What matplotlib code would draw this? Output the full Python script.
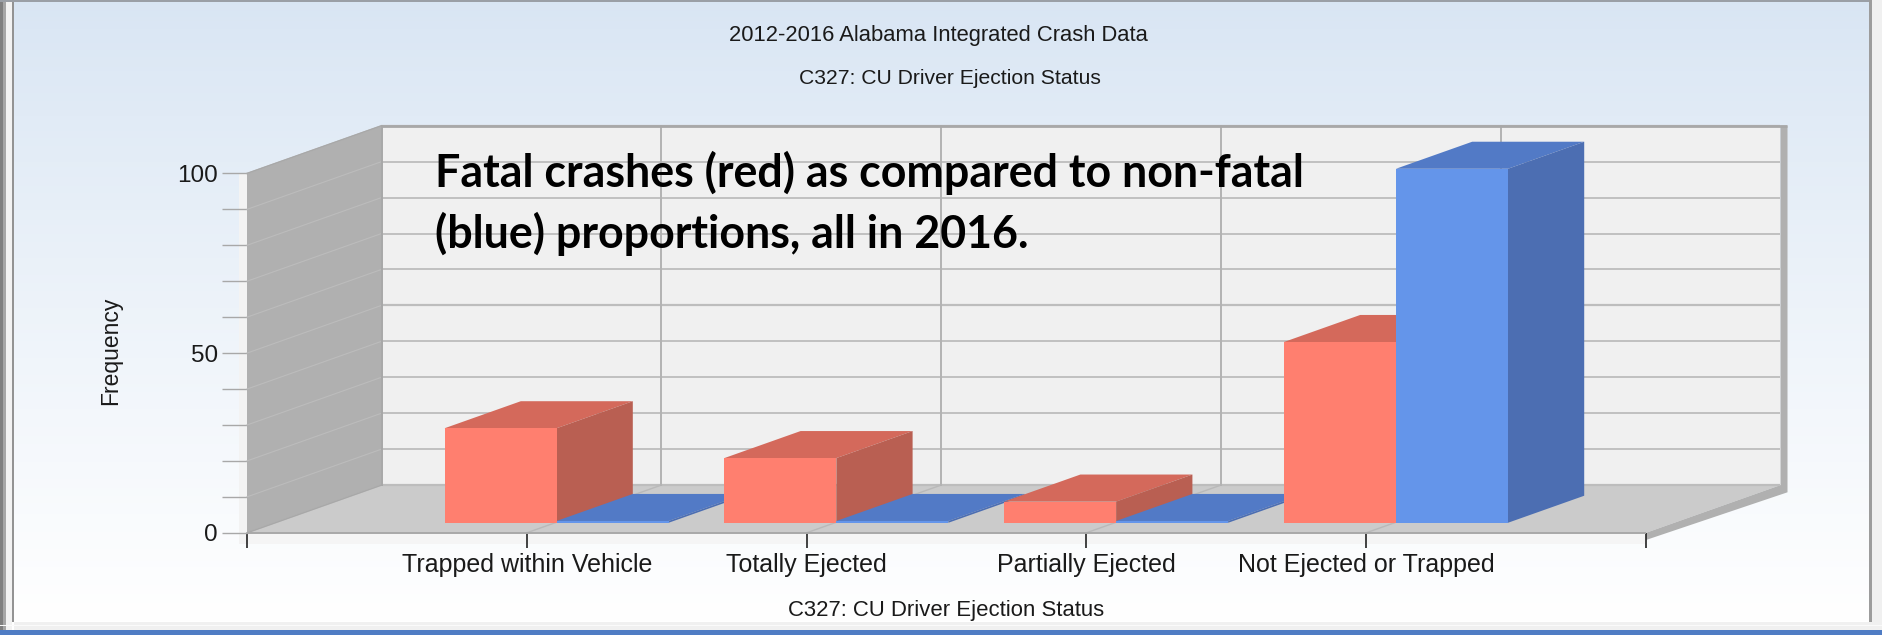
import numpy as np
import matplotlib
matplotlib.use("Agg")
import matplotlib.pyplot as plt
from matplotlib.patches import Rectangle

# valores
categorias = ["Trapped within Vehicle", "Totally Ejected", "Partially Ejected", "Not Ejected or Trapped"]
fatal = [26.3, 18.0, 5.9, 50.3]
no_fatal = [0.5, 0.5, 0.5, 98.5]
titulo1 = "2012-2016 Alabama Integrated Crash Data"
titulo2 = "C327: CU Driver Ejection Status"
nota = "Fatal crashes (red) as compared to non-fatal\n(blue) proportions, all in 2016."

W, H = 1883, 635
plt.rcParams['font.family'] = ['Liberation Sans', 'DejaVu Sans']
fig = plt.figure(figsize=(W / 100, H / 100), dpi=100, facecolor='white')

# fondo con degradado y marco de la ventana (en pixeles)
bg = fig.add_axes([0, 0, 1, 1], zorder=0)
bg.set_xlim(0, W)
bg.set_ylim(H, 0)
bg.axis('off')
grad = np.linspace(0, 1, 256).reshape(-1, 1) ** 0.9
top = np.array([0.85, 0.90, 0.955])
bot = np.array([1.0, 1.0, 1.0])
img = top + (bot - top) * grad[..., None]
bg.imshow(img, extent=[14, 1869, 622, 2], aspect='auto', zorder=0)
bg.set_xlim(0, W)
bg.set_ylim(H, 0)
for x0, x1, y0, y1, c in [(0, 3, 0, 630, '#7f7f7f'), (3, 6, 0, 630, '#a6a6a6'),
                          (6, 12, 0, 630, '#f2f2f2'), (12, 14, 0, 622, '#939393'),
                          (0, W, 0, 2, '#9a9fa6'), (1869, 1872, 0, 622, '#9c9c9c'),
                          (1872, W, 0, 630, '#f0f0f0'), (14, 1872, 622, 630, '#f0f0f0'),
                          (0, W, 625, 626, '#fafafa'), (0, W, 630, 635, '#4f7cc4')]:
    bg.add_patch(Rectangle((x0, y0), x1 - x0, y1 - y0, color=c, lw=0, zorder=1))

# eje principal: plano frontal del grafico 3D
x_izq, x_der, y_0, y_100 = 247, 1646, 532.8, 173.4
ax = fig.add_axes([x_izq / W, 1 - y_0 / H, (x_der - x_izq) / W, (y_0 - y_100) / H], zorder=1)
ax.patch.set_alpha(0)
ax.set_xlim(-1, 4)
ax.set_ylim(0, 100)
for s in ax.spines.values():
    s.set_visible(False)

# desplazamiento de profundidad en unidades de datos
DX = 134.5 / 279.8
DY = 47.7 / 3.594


def p(x, y, d):
    return x + d * DX, y + d * DY


def cara(puntos, color, z, lw=0):
    xs = [q[0] for q in puntos]
    ys = [q[1] for q in puntos]
    ax.fill(xs, ys, color=color, lw=lw, zorder=z, clip_on=False)


# paredes y piso
cara([p(-1, 0, 0), p(-1, 100, 0), p(-1, 100, 1), p(-1, 0, 1)], '#b0b0b0', 1)
cara([p(-1, 0, 1), p(-1, 100, 1), p(4, 100, 1), p(4, 0, 1)], '#f0f0f0', 1)
cara([p(-1, 0, 0), p(-1, 0, 1), p(4, 0, 1), p(4, 0, 0)], '#cbcbcb', 1)
# borde exterior derecho e inferior
e = 7 / 279.8
cara([p(4, 100, 1), (p(4, 100, 1)[0] + e, 100 + DY), (p(4, 0, 1)[0] + e, DY - 2), p(4, -2, 0), p(4, 0, 0), p(4, 0, 1)], '#b0b0b0', 1.5)
# sombra clara junto al eje
ax.add_patch(Rectangle((-1 - 8 / 279.8, -3), 8 / 279.8, 103, color='#f3f3f3', lw=0, zorder=0.5, clip_on=False))
ax.add_patch(Rectangle((-1, -3), 5, 3, color='#f5f5f5', lw=0, zorder=0.5, clip_on=False))

# rejilla
for v in range(0, 101, 10):
    ancho = 1.6 if v % 50 == 0 else 1.3
    a, b = p(-1, v, 0), p(-1, v, 1)
    ax.plot([a[0], b[0]], [a[1], b[1]], color='#bcbcbc', lw=0.8, zorder=2, clip_on=False)
    a, b = p(-1, v, 1), p(4, v, 1)
    ax.plot([a[0], b[0]], [a[1], b[1]], color='#bdbdbd', lw=ancho, zorder=2, clip_on=False, solid_capstyle='butt')
for c in range(0, 4):
    a, b = p(c, 0, 0), p(c, 0, 1)
    ax.plot([a[0], b[0]], [a[1], b[1]], color='#b9b9b9', lw=1, zorder=2, clip_on=False)
    a, b = p(c, 0, 1), p(c, 100, 1)
    ax.plot([a[0], b[0]], [a[1], b[1]], color='#b3b3b3', lw=1.4, zorder=2, clip_on=False)
ax.plot([-1, 4], [0, 0], color='#a8a8a8', lw=1.4, zorder=2, clip_on=False, solid_capstyle='butt')
ax.plot([-1, -1 + DX], [0, DY], color='#a8a8a8', lw=1, zorder=2, clip_on=False)
ax.plot([-1, -1 + DX], [100, 100 + DY], color='#a8a8a8', lw=1, zorder=2, clip_on=False)
ax.plot([-1 + DX, -1 + DX], [0 + DY, 100 + DY], color='#a8a8a8', lw=1.4, zorder=2, clip_on=False)
ax.plot([-1 + DX, 4 + DX + e], [100 + DY, 100 + DY], color='#a8a8a8', lw=2, zorder=2, clip_on=False, solid_capstyle='butt')

# barras
d0, d1 = 0.21, 0.777
ancho_barra = 112 / 279.8
ajuste = 1.5 / 279.8


def barra(x, h, frente, arriba, lado, z):
    base = d0 * DY
    x0 = x + d0 * DX + ajuste
    ax.bar(x0, h, width=ancho_barra, bottom=base, align='edge', color=frente, lw=0, zorder=z + 0.2, clip_on=False)
    dp = d1 - d0
    x1 = x0 + ancho_barra
    cara([(x0, base + h), (x1, base + h), (x1 + dp * DX, base + h + dp * DY), (x0 + dp * DX, base + h + dp * DY)], arriba, z)
    cara([(x1, base), (x1, base + h), (x1 + dp * DX, base + h + dp * DY), (x1 + dp * DX, base + dp * DY)], lado, z + 0.1)


for i in range(len(categorias)):
    barra(i - ancho_barra, fatal[i], '#ff7f6f', '#d4695b', '#b95f52', 3 + i)
    barra(i, no_fatal[i], '#6495ea', '#527ac6', '#4c6eb2', 3.5 + i)

# ticks y etiquetas
ax.set_xticks(range(-1, 5))
ax.set_xticklabels([""] + categorias + [""], fontsize=18, color='#1a1a1a')
ax.tick_params(axis='x', length=10.5, width=1.2, color='#222222', pad=4)
ax.set_yticks([0, 50, 100])
ax.set_yticklabels(["0", "50", "100"], fontsize=17.5, color='#1a1a1a')
ax.set_yticks(range(0, 101, 10), minor=True)
ax.tick_params(axis='y', which='both', length=18, width=1, color='#a8a8a8', pad=3)
ax.set_xlabel(titulo2, fontsize=15.9, color='#1a1a1a', labelpad=16.5)

fig.text(938 / W, 1 - 35 / H, titulo1, fontsize=15.8, color='#1a1a1a', ha='center', va='center')
fig.text(950 / W, 1 - 78 / H, titulo2, fontsize=15.2, color='#1a1a1a', ha='center', va='center')
fig.text(111 / W, 1 - 351 / H, "Frequency", fontsize=16.5, color='#1a1a1a', rotation=90, ha='center', va='center')

for linea, y in zip(nota.split("\n"), [187.5, 247.5]):
    fig.text(435 / W, 1 - y / H, linea, fontsize=32.2, fontweight='bold', family='Lato',
             color='black', ha='left', va='baseline', zorder=5)

fig.savefig("out.png", dpi=100)
